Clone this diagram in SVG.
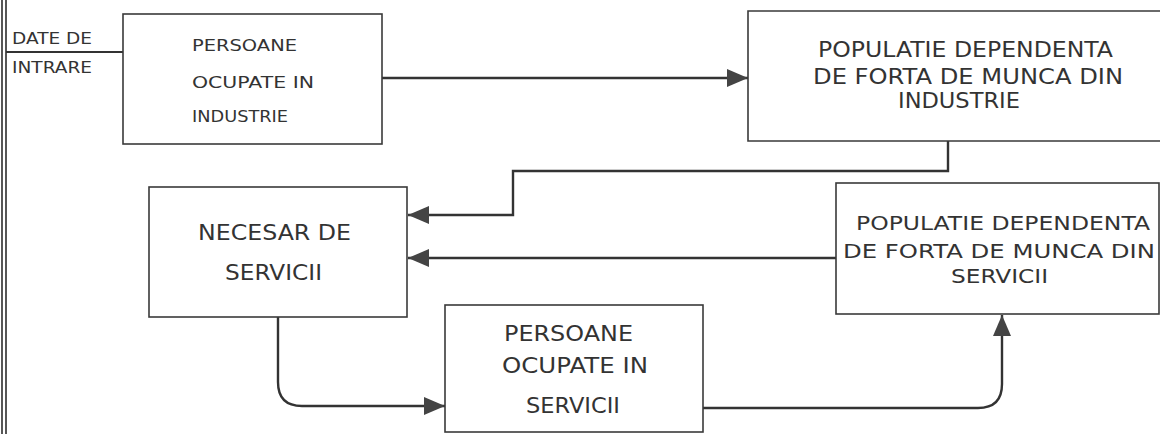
<svg xmlns="http://www.w3.org/2000/svg" width="1160" height="434" viewBox="0 0 1160 434">
<style>
.box{fill:none;stroke:#3a3a3a;stroke-width:1.6}
.ln{fill:none;stroke:#333;stroke-width:2.4}
.t{font-family:"DejaVu Sans","Liberation Sans",sans-serif;fill:#333}
.s15{font-size:15px}
.s16{font-size:16px}
.s20{font-size:20px}
.s21{font-size:21px}
</style>
<defs>
<marker id="ah" markerUnits="userSpaceOnUse" markerWidth="21" markerHeight="18" refX="21" refY="9" orient="auto" viewBox="0 0 21 18">
<path d="M0,0 L21,9 L0,18 z" fill="#444"/>
</marker>
</defs>
<rect width="1160" height="434" fill="#fff"/>
<g id="border">
<line x1="2" y1="0" x2="2" y2="434" stroke="#444" stroke-width="1.8"/>
<line x1="6" y1="0" x2="6" y2="434" stroke="#444" stroke-width="1.8"/>
</g>
<g id="input">
<text class="t s16" x="12" y="44" textLength="80" lengthAdjust="spacingAndGlyphs">DATE DE</text>
<text class="t s16" x="12" y="73" textLength="80" lengthAdjust="spacingAndGlyphs">INTRARE</text>
</g>
<g id="connectors">
<path class="ln" d="M6,52 H123" style="stroke-width:1.8"/>
<path class="ln" d="M382,78 H748" marker-end="url(#ah)"/>
<path class="ln" d="M948,141 V171 H513 V215 H408" marker-end="url(#ah)"/>
<path class="ln" d="M836,258 H408" marker-end="url(#ah)"/>
<path class="ln" d="M278,317 V382 Q278,406 302,406 H445" marker-end="url(#ah)"/>
<path class="ln" d="M703,408 H978 Q1002,408 1002,384 V315" marker-end="url(#ah)"/>
</g>
<g id="ocupate-industrie">
<rect class="box" x="123" y="14" width="259" height="130"/>
<text class="t s15" x="192" y="51" textLength="105" lengthAdjust="spacingAndGlyphs">PERSOANE</text>
<text class="t s15" x="192" y="88" textLength="122" lengthAdjust="spacingAndGlyphs">OCUPATE IN</text>
<text class="t s15" x="192" y="122" textLength="96" lengthAdjust="spacingAndGlyphs">INDUSTRIE</text>
</g>
<g id="populatie-industrie">
<path class="box" d="M1161,11 H748 V141 H1161"/>
<text class="t s21" x="818" y="57" textLength="295" lengthAdjust="spacingAndGlyphs">POPULATIE DEPENDENTA</text>
<text class="t s21" x="813" y="84" textLength="310" lengthAdjust="spacingAndGlyphs">DE FORTA DE MUNCA DIN</text>
<text class="t s21" x="898" y="108" textLength="122" lengthAdjust="spacingAndGlyphs">INDUSTRIE</text>
</g>
<g id="necesar-servicii">
<rect class="box" x="149" y="187" width="258" height="130"/>
<text class="t s21" x="198" y="240" textLength="153" lengthAdjust="spacingAndGlyphs">NECESAR DE</text>
<text class="t s21" x="225" y="280" textLength="97" lengthAdjust="spacingAndGlyphs">SERVICII</text>
</g>
<g id="populatie-servicii">
<rect class="box" x="836" y="183" width="323" height="131"/>
<text class="t s20" x="856" y="230" textLength="294" lengthAdjust="spacingAndGlyphs">POPULATIE DEPENDENTA</text>
<text class="t s20" x="843" y="258" textLength="312" lengthAdjust="spacingAndGlyphs">DE FORTA DE MUNCA DIN</text>
<text class="t s20" x="951" y="283" textLength="97" lengthAdjust="spacingAndGlyphs">SERVICII</text>
</g>
<g id="ocupate-servicii">
<rect class="box" x="445" y="305" width="258" height="127"/>
<text class="t s21" x="504" y="341" textLength="129" lengthAdjust="spacingAndGlyphs">PERSOANE</text>
<text class="t s21" x="502" y="373" textLength="146" lengthAdjust="spacingAndGlyphs">OCUPATE IN</text>
<text class="t s21" x="526" y="413" textLength="94" lengthAdjust="spacingAndGlyphs">SERVICII</text>
</g>
</svg>
